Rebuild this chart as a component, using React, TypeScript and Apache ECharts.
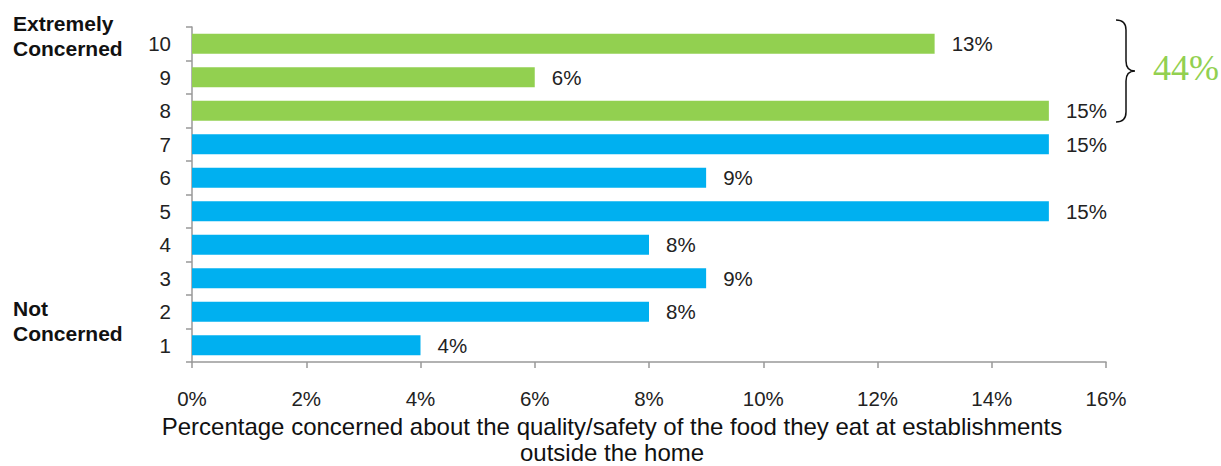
import React, { useEffect, useRef } from "react";
import * as echarts from "echarts";

const categories = ["1", "2", "3", "4", "5", "6", "7", "8", "9", "10"];
const values = [4, 8, 9, 8, 15, 9, 15, 15, 6, 13];
const greenFrom = 8; // scale points 8-10 are highlighted
const xTicks = { min: 0, max: 16, interval: 2 };
const totalLabel = "44%";
const axisTitle = [
  "Percentage concerned about the quality/safety of the food they eat at establishments",
  "outside the home",
];

const GREEN = "#92D050";
const BLUE = "#00B0F0";

const bracePath =
  "M0,0 Q10,0 10,10 L10,41 Q10,51 19,51 Q10,51 10,61 L10,92 Q10,102 0,102";

export default function App() {
  const ref = useRef<HTMLDivElement>(null);
  useEffect(() => {
    if (!ref.current) return;
    echarts.graphic.registerShape("brace", echarts.graphic.extendPath(bracePath, {}) as any);
    const chart = echarts.init(ref.current, null, { renderer: "svg" });
    const font = "Liberation Sans, Arial, sans-serif";
    chart.setOption({
      animation: false,
      textStyle: { fontFamily: font },
      grid: { left: 192, top: 27, right: 115, bottom: 104, containLabel: false },
      xAxis: {
        type: "value",
        min: xTicks.min,
        max: xTicks.max,
        interval: xTicks.interval,
        axisLine: { show: true, lineStyle: { color: "#999", width: 1.5 } },
        axisTick: { show: true, length: 6, lineStyle: { color: "#999", width: 1.5 } },
        splitLine: { show: false },
        axisLabel: {
          formatter: "{value}%",
          fontSize: 20.5,
          color: "#222",
          margin: 26,
          fontFamily: font,
        },
      },
      yAxis: {
        type: "category",
        data: categories,
        boundaryGap: true,
        axisLine: { show: true, lineStyle: { color: "#999", width: 1.5 } },
        axisTick: { show: true, length: 6, lineStyle: { color: "#999", width: 1.5 } },
        axisLabel: { fontSize: 20.5, color: "#222", margin: 21, fontFamily: font },
      },
      series: [
        {
          type: "bar",
          barCategoryGap: "40%",
          data: values.map((v, i) => ({
            value: v,
            itemStyle: {
              color: Number(categories[i]) >= greenFrom ? GREEN : BLUE,
            },
          })),
          label: {
            show: true,
            position: "right",
            distance: 17,
            formatter: "{c}%",
            fontSize: 20.5,
            color: "#222",
            fontFamily: font,
          },
        },
      ],
      graphic: [
        {
          type: "text",
          left: 13,
          top: 10.5,
          style: {
            text: "Extremely\nConcerned",
            font: `bold 21px ${font}`,
            fill: "#111",
            lineHeight: 25,
          },
        },
        {
          type: "text",
          left: 13,
          top: 296,
          style: {
            text: "Not\nConcerned",
            font: `bold 21px ${font}`,
            fill: "#111",
            lineHeight: 25,
          },
        },
        {
          type: "brace",
          x: 1116,
          y: 20,
          shape: {},
          style: { fill: "none", stroke: "#111", lineWidth: 1.5 },
        },
        {
          type: "text",
          left: 1153,
          top: 50,
          style: {
            text: totalLabel,
            font: "36px Liberation Serif, Times New Roman, serif",
            fill: GREEN,
          },
        },
        {
          type: "text",
          x: 612,
          y: 413,
          style: {
            text: axisTitle.join("\n"),
            font: `24px ${font}`,
            fill: "#111",
            align: "center",
            lineHeight: 26,
          },
        },
      ],
    });
    return () => chart.dispose();
  }, []);
  return (
    <div
      ref={ref}
      style={{ position: "absolute", left: 0, top: 0, width: 1221, height: 466, background: "#fff" }}
    />
  );
}
